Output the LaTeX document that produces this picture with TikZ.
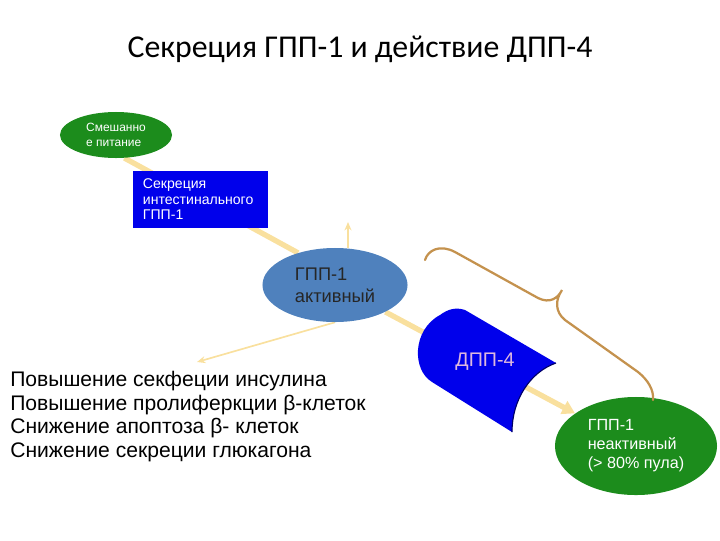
\documentclass[tikz,border=0pt]{standalone}
\usepackage{fontspec}
\setmainfont{Liberation Sans}
\newfontfamily\titlefont{Carlito}
\usepackage{tikz}
\usetikzlibrary{shapes.geometric,arrows.meta,backgrounds}
\definecolor{leafgreen}{RGB}{28,140,28}
\definecolor{deepblue}{RGB}{0,0,235}
\definecolor{steel}{RGB}{79,129,189}
\definecolor{cream}{RGB}{249,224,158}
\definecolor{tan}{RGB}{196,146,78}
\definecolor{lavender}{RGB}{222,184,222}
\tikzset{
	blob/.style={ellipse, inner sep=0pt, align=left},
	flow/.style={cream, line width=3.8pt},
	thin flow/.style={cream, line width=1.2pt, -{Stealth[length=6pt,width=5pt]}}
}
\begin{document}
\begin{tikzpicture}[x={(0.025cm,0)}, y={(0,-0.025cm)}]
		\useasboundingbox (0,0) rectangle (720,540);
		\node [anchor=base, font=\titlefont\fontsize{22.6}{26}\selectfont] (title) at (360,57) {Секреция ГПП-1 и действие ДПП-4};
		\node [blob, fill=leafgreen, text=white, minimum width=2.8cm, minimum height=1.15cm, font=\fontsize{8.5}{10.6}\selectfont] (food) at (116,135) {Смешанно\\е питание};
		\node [fill=deepblue, text=white, align=left, text width=2.875cm, minimum width=3.375cm, minimum height=1.425cm, inner sep=0pt, font=\fontsize{10}{11}\selectfont] (secr) at (200.5,199.5) {Секреция\\интестинального\\ГПП-1};
		\node [blob, fill=steel, text=black!85, minimum width=3.625cm, minimum height=1.85cm, font=\fontsize{13}{15.6}\selectfont] (act) at (335,285) {ГПП-1\\активный};
		\node [blob, fill=leafgreen, text=white, minimum width=4.05cm, minimum height=2.45cm, font=\fontsize{11.5}{13.5}\selectfont] (inact) at (636,446) {ГПП-1\\неактивный\\(> 80\% пула)};
		\node [anchor=north west, align=left, inner sep=0pt, font=\fontsize{15}{16.8}\selectfont] (effects) at (10,371) {Повышение секфеции инсулина\\Повышение пролиферкции β-клеток\\Снижение апоптоза β- клеток\\Снижение секреции глюкагона};
		\coordinate (up) at (348,222);
		\coordinate (effect) at (197,362);
		\begin{scope}[on background layer]
			\draw [flow] (food.-70) -- (act.139);
			\draw [flow, -{Triangle[length=9pt,width=10pt]}] (act) -- (inact);
			\draw [thin flow] (act.north -| up) -- (up);
			\draw [thin flow] (act.south) -- (effect);
		\end{scope}
		\fill [deepblue] (465,310) -- (556,363) .. controls (530,372) and (512,400) .. (512,432) -- (432,382) .. controls (412,370) and (412,330) .. (440,315) .. controls (448,309) and (456,307) .. (465,310) -- cycle;
		\draw [blue!40!black, line width=0.8pt] (556,363) .. controls (530,372) and (512,400) .. (512,432);
		\node [lavender, font=\fontsize{14}{16}\selectfont] (dpp) at (485,362) {ДПП-4};
		\draw [tan, line width=1.6pt, line cap=round] (425,260) .. controls (428,250) and (440,244) .. (455,252) -- (538,298) .. controls (550,304) and (558,298) .. (562,290) .. controls (555,300) and (555,312) .. (565,320) -- (638,372) .. controls (648,380) and (654,390) .. (653,400);
	\end{tikzpicture}
\end{document}
